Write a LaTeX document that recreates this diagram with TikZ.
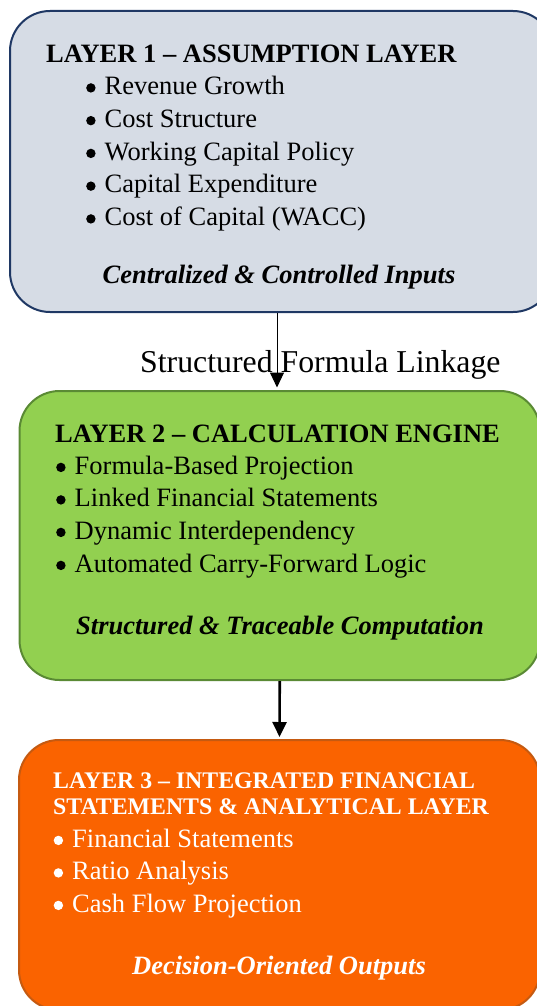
\documentclass[tikz,border=0pt]{standalone}
\usepackage{fontspec}
\setmainfont{Liberation Serif}
\usetikzlibrary{arrows.meta,calc}
\definecolor{boxA}{HTML}{D6DCE5}
\definecolor{edgeA}{HTML}{1F3864}
\definecolor{boxB}{HTML}{92D050}
\definecolor{edgeB}{HTML}{5A8A34}
\definecolor{boxC}{HTML}{FA6300}
\definecolor{edgeC}{HTML}{C55A11}
\newcommand{\bul}{\tikz[baseline=0pt,x=1pt,y=1pt]{\useasboundingbox (0,0) rectangle (18.5,1); \fill (4.7,6.6) circle (4.7);}}
\begin{document}
\begin{tikzpicture}[x=1pt,y=-1pt,
  layerbox/.style={rounded corners=40pt, line width=2pt, inner sep=0pt},
  txt/.style={anchor=base west, inner sep=0pt, font=\fontsize{26.5}{30}\selectfont},
  ttl/.style={txt, font=\fontsize{26.5}{30}\selectfont\bfseries},
  ttlsmall/.style={txt, font=\fontsize{23.8}{26}\selectfont\bfseries},
  tag/.style={anchor=base, inner sep=0pt, font=\fontsize{26.5}{30}\selectfont\bfseries\itshape},
  lbl/.style={anchor=base west, inner sep=0pt, font=\fontsize{31.8}{36}\selectfont},
  arr/.style={-{Triangle[length=15pt,width=14pt]}}
]
\clip (0,0) rectangle (537,1006);

% boxes
\node[layerbox, draw=edgeA, fill=boxA, minimum width=543pt, minimum height=301pt] (L1) at (281.5,161.5) {};
\node[layerbox, draw=edgeB, fill=boxB, minimum width=520.5pt, minimum height=289pt] (L2) at (279.75,535.5) {};
\node[layerbox, draw=edgeC, fill=boxC, minimum width=521pt, minimum height=270pt] (L3) at (279.5,875) {};

% layer 1 text
\node[ttl] (t1) at (46,63) {LAYER 1 – ASSUMPTION LAYER};
\node[txt] (b11) at (86,94.5) {\bul Revenue Growth};
\node[txt] (b12) at (86,127.25) {\bul Cost Structure};
\node[txt] (b13) at (86,160) {\bul Working Capital Policy};
\node[txt] (b14) at (86,192.75) {\bul Capital Expenditure};
\node[txt] (b15) at (86,225.5) {\bul Cost of Capital (WACC)};
\node[tag] (g1) at (279,283) {Centralized \& Controlled Inputs};

% layer 2 text
\node[ttl] (t2) at (55,442.5) {LAYER 2 – CALCULATION ENGINE};
\node[txt] (b21) at (56,474) {\bul Formula-Based Projection};
\node[txt] (b22) at (56,506.5) {\bul Linked Financial Statements};
\node[txt] (b23) at (56,539) {\bul Dynamic Interdependency};
\node[txt] (b24) at (56,572) {\bul Automated Carry-Forward Logic};
\node[tag] (g2) at (280,634) {Structured \& Traceable Computation};

% layer 3 text
\begin{scope}[text=white]
\node[ttlsmall] (t3a) at (53,788) {LAYER 3 – INTEGRATED FINANCIAL};
\node[ttlsmall] (t3b) at (53,814) {STATEMENTS \& ANALYTICAL LAYER};
\node[txt] (b31) at (53.5,847) {\bul Financial Statements};
\node[txt] (b32) at (53.5,879.5) {\bul Ratio Analysis};
\node[txt] (b33) at (53.5,912) {\bul Cash Flow Projection};
\node[tag] (g3) at (279,974) {Decision-Oriented Outputs};
\end{scope}

% connectors
\draw[arr, line width=1pt, shorten >=2.5pt] ([xshift=-4.5pt]L1.south) -- ([xshift=-2.75pt]L2.north);
\node[lbl] (lk) at (140,372) {Structured Formula Linkage};
\draw[arr, line width=2.6pt, shorten >=2pt] (L2.south) -- (L3.north);
\end{tikzpicture}
\end{document}
